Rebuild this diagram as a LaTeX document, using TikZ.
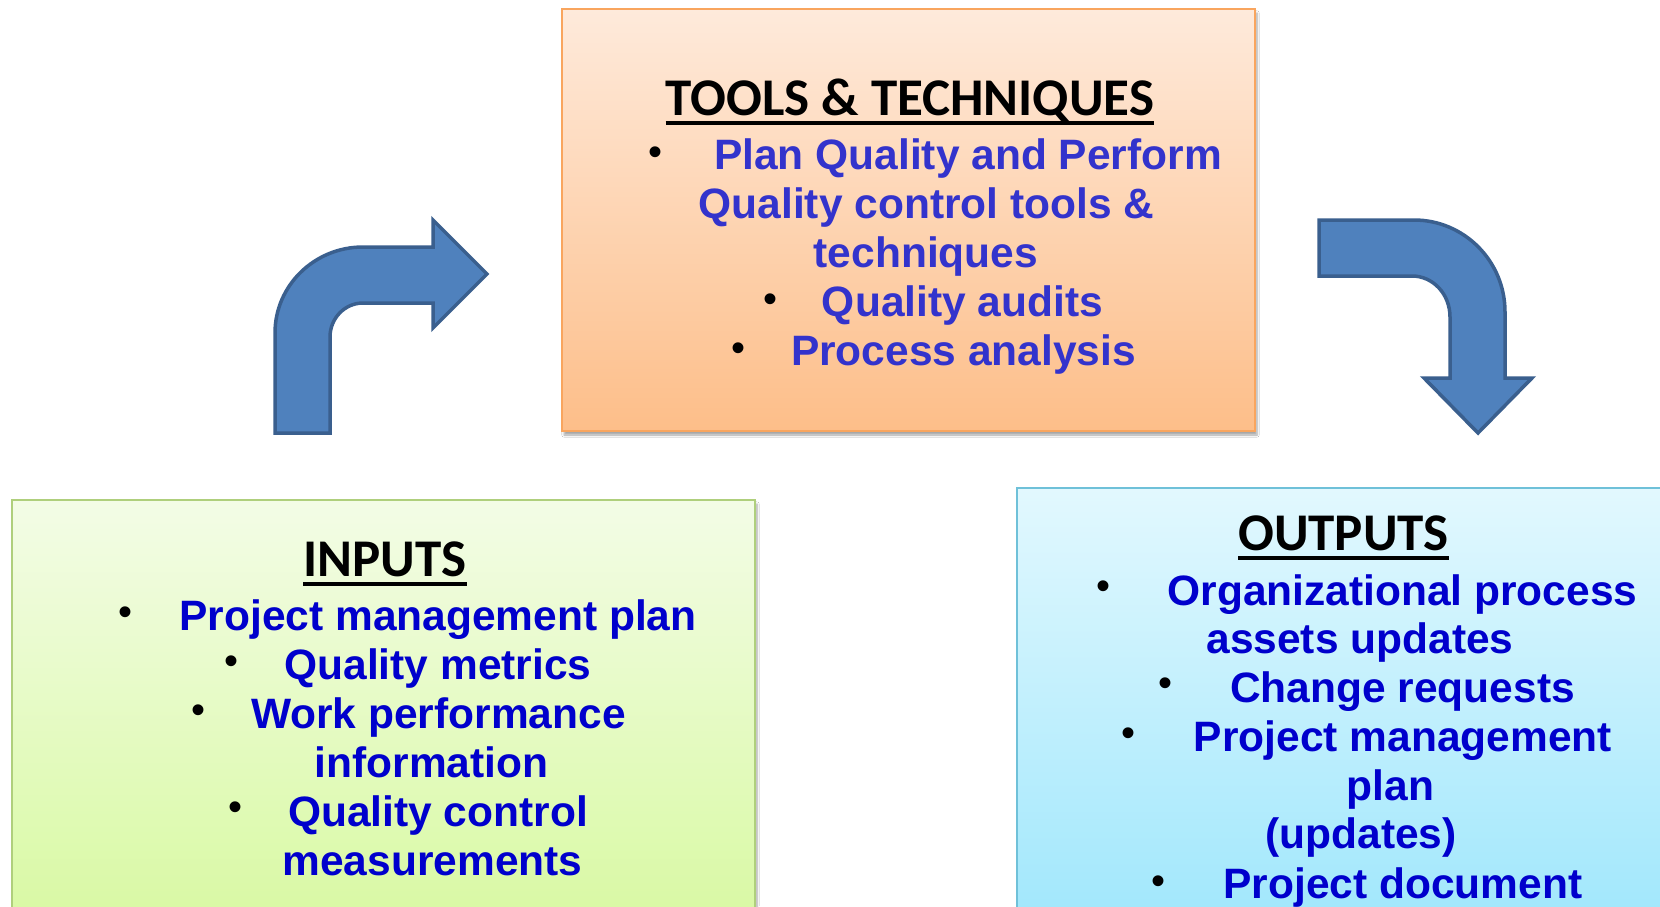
\documentclass[tikz,border=0pt]{standalone}
\usepackage{fontspec}
\setmainfont{Liberation Sans}
\newfontfamily\headfont{Carlito}
\usetikzlibrary{shadows.blur}
\definecolor{arrowfill}{HTML}{4F81BD}
\definecolor{arrowline}{HTML}{3A5F8E}
\definecolor{tooltop}{HTML}{FEEADB}
\definecolor{toolbot}{HTML}{FDBE89}
\definecolor{toolline}{HTML}{F9A55E}
\definecolor{intop}{HTML}{F3FCE6}
\definecolor{inbot}{HTML}{D8F9A2}
\definecolor{inline}{HTML}{AFCF7C}
\definecolor{outtop}{HTML}{E2F8FE}
\definecolor{outbot}{HTML}{A0E7FC}
\definecolor{outline}{HTML}{6FC1D9}
\definecolor{toolblue}{HTML}{3333CC}
\definecolor{itemblue}{HTML}{0000CC}
\tikzset{
  boxnode/.style={rectangle, line width=2pt, inner sep=0pt},
  shadowed/.style={blur shadow={shadow xshift=2pt, shadow yshift=-4pt, shadow blur steps=6, shadow opacity=35}},
  headtext/.style={anchor=base, inner sep=0pt, font=\headfont\bfseries\fontsize{53}{60}\selectfont, text=black},
  itemtext/.style={anchor=base, inner sep=0pt, font=\bfseries\fontsize{42.5}{49}\selectfont},
  toolitem/.style={itemtext, text=toolblue},
  blueitem/.style={itemtext, text=itemblue},
  bulletdot/.style={anchor=center, inner sep=0pt, font=\fontsize{40}{40}\selectfont, text=black},
  underl/.style={line width=4pt, black},
  bentarrow/.style={fill=arrowfill, draw=arrowline, line width=3.5pt, line join=miter}
}
\begin{document}
\begin{tikzpicture}[x=1pt,y=-1pt]
\useasboundingbox (0,0) rectangle (1660,906);
\clip (0,0) rectangle (1660,906);
\fill[white] (0,0) rectangle (1660,906);

% boxes
\node[boxnode, shadowed, draw=toolline, top color=tooltop, bottom color=toolbot,
      minimum width=693pt, minimum height=422pt] (tools) at (908.5,220) {};
\node[boxnode, shadowed, draw=inline, top color=intop, bottom color=inbot,
      minimum width=743pt, minimum height=430pt] (inputs) at (383.5,715) {};
\node[boxnode, shadowed, draw=outline, top color=outtop, bottom color=outbot,
      minimum width=700pt, minimum height=440pt] (outputs) at (1367,708) {};

% left bent arrow
\draw[bentarrow] (275,433) -- (275,333)
  .. controls (275,285.5) and (314.4,247) .. (363,247)
  -- (433,247) -- (433,220) -- (487,274) -- (433,328) -- (433,303) -- (363,303)
  .. controls (344.8,303) and (330,318.2) .. (330,337)
  -- (330,433) -- cycle;

% right bent arrow
\draw[bentarrow] (1319,220) -- (1414,220)
  .. controls (1464,220) and (1505,261) .. (1505,312)
  -- (1505,378) -- (1532,378) -- (1478,433) -- (1424,378) -- (1450,378) -- (1450,317)
  .. controls (1450,294) and (1433,276) .. (1412,276)
  -- (1319,276) -- cycle;

% tools text
\node[headtext] (th) at (910,115) {TOOLS \& TECHNIQUES};
\draw[underl] ([yshift=-8pt]th.base west) -- ([yshift=-8pt]th.base east);
\node[bulletdot] (tb1) at (655,156) {•};
\node[toolitem] (t1) at (968,169) {Plan Quality and Perform};
\node[toolitem] (t2) at (926.5,218) {Quality control tools \&};
\node[toolitem] (t3) at (926,267) {techniques};
\node[bulletdot] (tb2) at (770,303) {•};
\node[toolitem] (t4) at (962.5,316) {Quality audits};
\node[bulletdot] (tb3) at (738,352) {•};
\node[toolitem] (t5) at (963.5,365) {Process analysis};

% inputs text
\node[headtext] (ih) at (385,576) {INPUTS};
\draw[underl] ([yshift=-8pt]ih.base west) -- ([yshift=-8pt]ih.base east);
\node[bulletdot] (ib1) at (126,616) {•};
\node[blueitem] (i1) at (438,630) {Project management plan};
\node[bulletdot] (ib2) at (231,665) {•};
\node[blueitem] (i2) at (438,679) {Quality metrics};
\node[bulletdot] (ib3) at (198.5,714) {•};
\node[blueitem] (i3) at (438.5,728) {Work performance};
\node[blueitem] (i4) at (431.5,777) {information};
\node[bulletdot] (ib4) at (235.6,811) {•};
\node[blueitem] (i5) at (438,826) {Quality control};
\node[blueitem] (i6) at (432.5,875) {measurements};

% outputs text
\node[headtext] (oh) at (1343.5,550) {OUTPUTS};
\draw[underl] ([yshift=-8pt]oh.base west) -- ([yshift=-8pt]oh.base east);
\node[bulletdot] (ob1) at (1103,590) {•};
\node[blueitem] (o1) at (1402.5,605) {Organizational process};
\node[blueitem] (o2) at (1360,653) {assets updates};
\node[bulletdot] (ob2) at (1165,687) {•};
\node[blueitem] (o3) at (1402.5,702) {Change requests};
\node[bulletdot] (ob3) at (1128,737) {•};
\node[blueitem] (o4) at (1403,751) {Project management};
\node[blueitem] (o5) at (1390.5,800) {plan};
\node[blueitem] (o6) at (1361,848) {(updates)};
\node[bulletdot] (ob4) at (1158,885) {•};
\node[blueitem] (o7) at (1403,898) {Project document};
\end{tikzpicture}
\end{document}
